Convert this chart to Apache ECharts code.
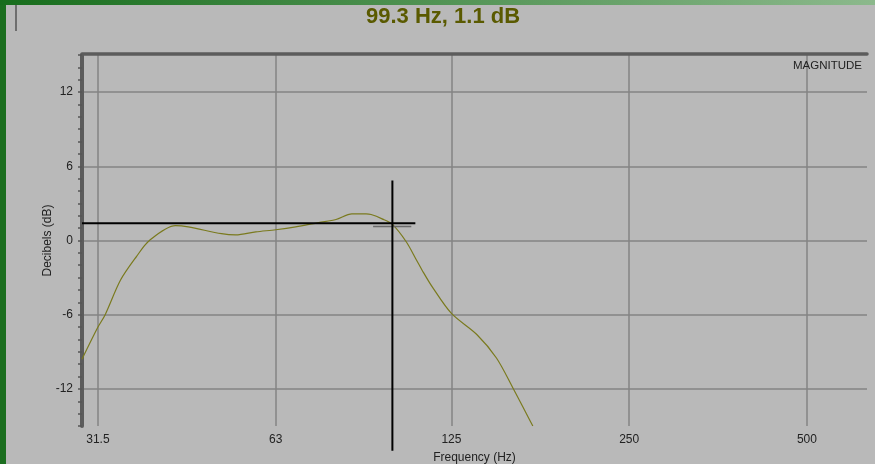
<!DOCTYPE html>
<html><head><meta charset="utf-8">
<script src="https://cdn.jsdelivr.net/npm/echarts@6/dist/echarts.min.js"></script>
<style>html,body{margin:0;padding:0;background:#b9b9b9;}#c{width:875px;height:464px;}</style>
</head><body><div id="c"></div>
<script>
// Frequency response (Hz, dB)
const freqs = [29.6, 31.5, 32.4, 34.4, 36.6, 38.5, 42.6, 44.8, 51.0, 53.9, 58.3, 63, 68.1, 74.5, 79.7, 84.8, 89.6, 91.4, 95.4, 99.3, 104.8, 109, 111.5, 116, 125, 138, 149, 158.8, 171.7];
const magDb = [-9.6, -7.0, -6.0, -3.2, -1.3, 0.0, 1.2, 1.1, 0.55, 0.45, 0.7, 0.87, 1.1, 1.45, 1.7, 2.15, 2.15, 2.1, 1.75, 1.3, -0.1, -1.55, -2.4, -3.75, -5.9, -7.6, -9.5, -11.9, -15];
const xTicks = [31.5, 63, 125, 250, 500];
const yGridTicks = [-12, -6, 0, 6, 12];
// cursor readout
const cursorFreq = [99.3, 99.3];
const cursorVDb = [4.85, -17];
const cursorHFreq = [29.6, 108.6];
const cursorHDb = [1.4, 1.4];
const readFreq = [92.1, 106.9];
const readDb = [1.13, 1.13];

const font = 'Liberation Sans, Arial, sans-serif';
const chart = echarts.init(document.getElementById('c'));
const zip = (a, b) => a.map((v, i) => [v, b[i]]);
chart.setOption({
  backgroundColor: '#b9b9b9',
  animation: false,
  title: [
    { text: '99.3 Hz, 1.1 dB', left: 361, top: 1,
      textStyle: { color: '#5a5a00', fontSize: 22, fontWeight: 'bold', fontFamily: font } },
    { text: 'MAGNITUDE', right: 8, top: 55,
      textStyle: { color: '#222', fontSize: 11.5, fontWeight: 'normal', fontFamily: font } }
  ],
  graphic: [
    { type: 'rect', shape: { x: 0, y: 0, width: 6, height: 464 }, style: { fill: '#1b6e1f' }, silent: true },
    { type: 'rect', shape: { x: 0, y: 0, width: 875, height: 5 }, silent: true,
      style: { fill: new echarts.graphic.LinearGradient(0, 0, 1, 0, [{ offset: 0, color: '#176d1c' }, { offset: 1, color: '#8cb98c' }]) } },
    { type: 'line', shape: { x1: 16, y1: 5, x2: 16, y2: 31 }, style: { stroke: '#6e6e6e', lineWidth: 2 }, silent: true }
  ],
  grid: { left: 82, right: 8, top: 55, bottom: 38, outerBoundsMode: 'none', containLabel: false },
  xAxis: [{
    type: 'log', logBase: 2, min: 29.6, max: 632,
    name: 'Frequency (Hz)', nameLocation: 'middle', nameGap: 26, nameMoveOverlap: false,
    nameTextStyle: { color: '#222', fontSize: 12, fontFamily: font },
    axisLine: { show: false, onZero: false },
    axisTick: { show: false, customValues: xTicks },
    axisLabel: { customValues: xTicks, color: '#222', fontSize: 12, fontFamily: font, margin: 8,
      formatter: v => String(v) },
    splitLine: { show: true, lineStyle: { color: '#858585', width: 1.5 } }
  }, {
    type: 'log', logBase: 2, min: 29.6, max: 632, position: 'top', offset: 1.5,
    axisLine: { show: true, onZero: false, lineStyle: { color: '#5c5c5c', width: 3.5 } },
    axisTick: { show: false }, axisLabel: { show: false }, splitLine: { show: false }
  }],
  yAxis: [{
    type: 'value', min: -15, max: 15, interval: 1,
    name: 'Decibels (dB)', nameLocation: 'middle', nameGap: 28, nameRotate: 90, nameMoveOverlap: false,
    nameTextStyle: { color: '#222', fontSize: 12, fontFamily: font },
    axisLine: { show: true, onZero: false, lineStyle: { color: '#5c5c5c', width: 4 } },
    axisTick: { show: true, length: 4, lineStyle: { color: '#555', width: 1.5 } },
    axisLabel: { color: '#222', fontSize: 12, fontFamily: font, margin: 9,
      formatter: v => (v % 6 === 0 ? String(v) : '') },
    splitLine: { show: false }
  }, {
    type: 'value', min: -15, max: 15, position: 'left',
    axisLine: { show: false, onZero: false },
    axisTick: { show: false, customValues: yGridTicks },
    axisLabel: { show: false, customValues: yGridTicks },
    splitLine: { show: true, lineStyle: { color: '#858585', width: 1.5 } }
  }],
  series: [
    { type: 'line', data: zip(freqs, magDb), symbol: 'none', smooth: 0.3, z: 3,
      lineStyle: { color: '#7a7a1e', width: 1.2 } },
    { type: 'line', data: zip(readFreq, readDb), symbol: 'none', clip: false, z: 4,
      lineStyle: { color: '#6a6a6a', width: 1.5 } },
    { type: 'line', data: zip(cursorHFreq, cursorHDb), symbol: 'none', clip: false, z: 5,
      lineStyle: { color: '#000', width: 2 } },
    { type: 'line', data: zip(cursorFreq, cursorVDb), symbol: 'none', clip: false, z: 5,
      lineStyle: { color: '#000', width: 2 } }
  ]
});
</script></body></html>
